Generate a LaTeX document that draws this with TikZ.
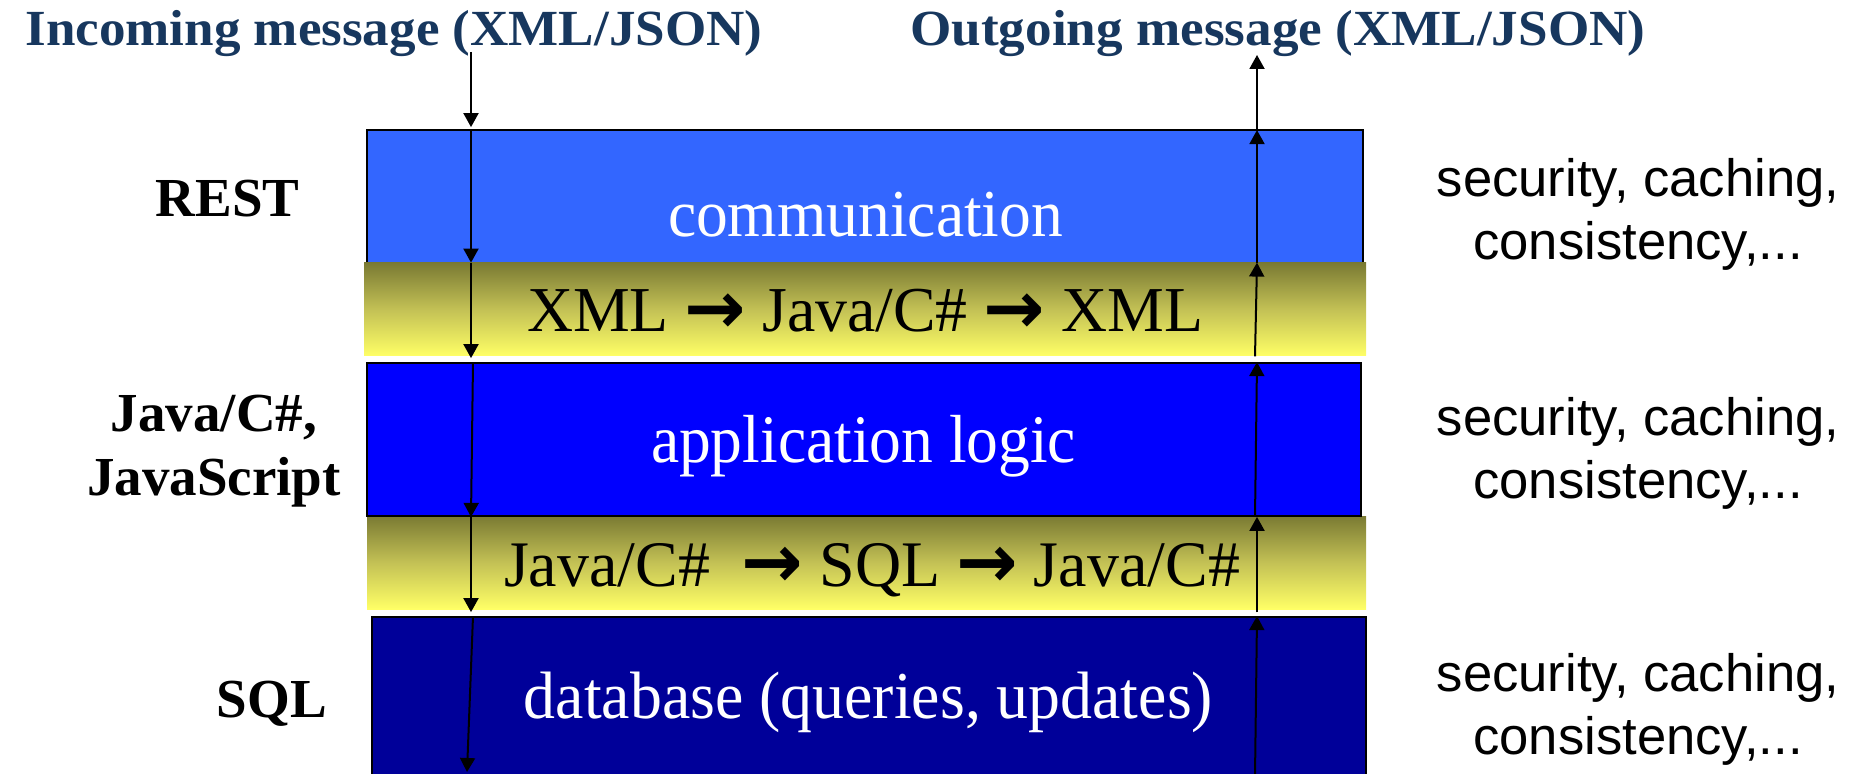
\documentclass[tikz,border=0pt]{standalone}
\usepackage{fontspec}
\usepackage{graphicx}
\setmainfont{Liberation Serif}
\newfontfamily\sansfnt{Liberation Sans}
\newfontfamily\arrowfnt{DejaVu Sans}
\usetikzlibrary{arrows.meta,fit}
\definecolor{navy}{RGB}{23,55,94}
\definecolor{commblue}{RGB}{51,102,255}
\definecolor{appblue}{RGB}{0,0,255}
\definecolor{dbblue}{RGB}{0,0,153}
\definecolor{bandtop}{RGB}{122,122,51}
\definecolor{bandmid}{RGB}{195,193,85}
\definecolor{bandbot}{RGB}{255,255,102}
\newcommand\fitw[2]{\resizebox{#1}{\height}{#2}}
\newcommand\barr{\raisebox{-0.02em}{\scalebox{1.15}{\arrowfnt\bfseries →}}}
\begin{document}
\begin{tikzpicture}[x=0.5pt,y=-0.5pt,
  layer/.style={inner sep=0pt, draw=black, line width=0.9pt},
  band/.style={inner sep=0pt, top color=bandtop, bottom color=bandbot, middle color=bandmid},
  hdr/.style={inner sep=0pt, anchor=base west, text=navy, font=\fontsize{25.3pt}{30pt}\selectfont\bfseries},
  lang/.style={inner sep=0pt, anchor=base, font=\fontsize{27.5pt}{32pt}\selectfont\bfseries},
  intxt/.style={inner sep=0pt, anchor=base, text=white},
  bandtxt/.style={inner sep=0pt, anchor=base, text=black},
  side/.style={inner sep=0pt, anchor=base, font=\sansfnt\fontsize{26.3pt}{31.5pt}\selectfont},
  arr/.style={line width=1pt, -{Triangle[length=7pt,width=7.5pt]}}]
\useasboundingbox (0,0) rectangle (1861,774);
\clip (0,0) rectangle (1861,774);
% layers
\node[layer, fill=commblue, fit={(367,130) (1363,263)}] (comm) {};
\node[band, fit={(364,263) (1366,356)}] (band1) {};
\node[band, fit={(367,516) (1366,609)}] (band2) {};
\node[layer, fill=appblue, fit={(367,363) (1361,516)}] (app) {};
\node[layer, fill=dbblue, fit={(372,617) (1366,800)}] (db) {};
% headers
\node[hdr] (inmsg) at (25,46) {\fitw{368.5pt}{Incoming message (XML/JSON)}};
\node[hdr] (outmsg) at (910,46) {\fitw{367.5pt}{Outgoing message (XML/JSON)}};
% layer texts
\node[intxt, font=\fontsize{33.5pt}{40pt}\selectfont] (commtxt) at (865.5,237) {\fitw{197.5pt}{communication}};
\node[bandtxt, font=\fontsize{32pt}{38pt}\selectfont] (b1txt) at (865,332) {\fitw{338pt}{XML \barr{} Java/C\# \barr{} XML}};
\node[intxt, font=\fontsize{34pt}{40pt}\selectfont] (apptxt) at (863.5,463) {\fitw{212.5pt}{application logic}};
\node[bandtxt, font=\fontsize{32.5pt}{38pt}\selectfont] (b2txt) at (872,586) {\fitw{368pt}{Java/C\#~ \barr{} SQL \barr{} Java/C\#}};
\node[intxt, font=\fontsize{33.5pt}{40pt}\selectfont] (dbtxt) at (868.5,718) {\fitw{344.5pt}{database (queries, updates)}};
% language labels
\node[lang] (rest) at (227.5,217) {REST};
\node[lang] (javalbl) at (214,432) {\begin{tabular}[t]{@{}c@{}}Java/C\#,\\JavaScript\end{tabular}};
\node[lang] (sql) at (272,717) {SQL};
% side notes
\node[side] (s1) at (1638,197) {\begin{tabular}[t]{@{}c@{}}security, caching,\\consistency,...\end{tabular}};
\node[side] (s2) at (1638,436) {\begin{tabular}[t]{@{}c@{}}security, caching,\\consistency,...\end{tabular}};
\node[side] (s3) at (1638,691) {\begin{tabular}[t]{@{}c@{}}security, caching,\\consistency,...\end{tabular}};
% arrows
\coordinate (in0) at (471,52);
\coordinate (inend) at (467,772);
\coordinate (out0) at (1257,55);
\coordinate (outstart) at (1255,776);
\draw[arr] (in0) -- ([yshift=1pt]in0 |- comm.north);
\draw[arr] (in0 |- comm.north) -- (in0 |- band1.north);
\draw[arr] (in0 |- band1.north) -- ([yshift=2pt]in0 |- app.north);
\draw[arr] ([xshift=1pt]in0 |- app.north) -- (in0 |- app.south);
\draw[arr] (in0 |- band2.north) -- ([yshift=2pt]in0 |- db.north);
\draw[arr] ([xshift=1pt]in0 |- db.north) -- (inend);
\draw[arr] (outstart) -- (out0 |- db.north);
\draw[arr] ([yshift=-1.5pt]out0 |- band2.south) -- (out0 |- app.south);
\draw[arr] ([xshift=-1pt]out0 |- app.south) -- (out0 |- app.north);
\draw[arr] ([xshift=-1pt]out0 |- band1.south) -- (out0 |- band1.north);
\draw[arr] (out0 |- band1.north) -- ([yshift=-0.5pt]out0 |- comm.north);
\draw[arr] (out0 |- comm.north) -- (out0);
\end{tikzpicture}
\end{document}
